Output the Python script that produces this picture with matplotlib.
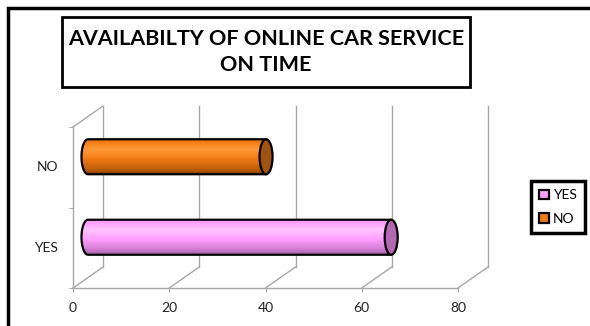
import numpy as np
import matplotlib
matplotlib.use("Agg")
import matplotlib.pyplot as plt
from matplotlib.patches import Rectangle, Ellipse, PathPatch, Patch
from matplotlib.path import Path
from matplotlib.colors import to_rgb

# ---- data ----
categories = ["YES", "NO"]
values = [63, 37]
x_ticks = [0, 20, 40, 60, 80]
title_text = "AVAILABILTY OF ONLINE CAR SERVICE\nON TIME"

# ---- style ----
W, H, DPI = 590, 326, 100
FONT = "Lato"
body_light = {"YES": "#FFC4FF", "NO": "#FF9A3A"}
body_base = {"YES": "#FF9EFF", "NO": "#F27A12"}
body_dark = {"YES": "#A45CA4", "NO": "#8E4200"}
cap_color = {"YES": "#B468B4", "NO": "#A0520E"}
grid_color = "#A8A8A8"

fig = plt.figure(figsize=(W / DPI, H / DPI), dpi=DPI)

def px_box(x0, y0, x1, y1):
    """figure-fraction rectangle from pixel coords measured from top-left"""
    return [x0 / W, 1 - y1 / H, (x1 - x0) / W, (y1 - y0) / H]

# plot area (front plane)
ax = fig.add_axes(px_box(73, 127, 458, 288))
ax.set_xlim(0, 80)
ax.set_ylim(-0.5, 1.5)
ax.set_facecolor("none")

# depth of the 3-D box, in data units
ax_w_px, ax_h_px = 385, 161
dx = 30 * 80 / ax_w_px
dy = 21 * 2.0 / ax_h_px

# walls / floor
for v in x_ticks:
    ax.plot([v + dx, v + dx], [-0.5 + dy, 1.5 + dy], color=grid_color, lw=1, clip_on=False, zorder=1)
    ax.plot([v, v + dx], [-0.5, -0.5 + dy], color=grid_color, lw=1, clip_on=False, zorder=1)
ax.plot([0, dx], [1.5, 1.5 + dy], color=grid_color, lw=1, clip_on=False, zorder=1)

for s in ["top", "right"]:
    ax.spines[s].set_visible(False)
for s in ["bottom", "left"]:
    ax.spines[s].set_color(grid_color)
    ax.spines[s].set_linewidth(1)

ax.set_xticks(x_ticks)
ax.set_xticklabels([str(t) for t in x_ticks], fontsize=10, family=FONT, color="#222222")
ax.tick_params(axis="x", length=3, color=grid_color, pad=7)
ax.set_yticks([-0.5, 0.5, 1.5])
ax.set_yticklabels([])
ax.tick_params(axis="y", length=3, color=grid_color)
ypos = np.arange(len(categories))
for y, c in zip(ypos, categories):
    ax.text(-3.1, y, c, ha="right", va="center", fontsize=10, family=FONT, color="#222222")

# cylinders
bar_h = 35 / ax_h_px * 2.0
cap_w = 13 * 80 / ax_w_px
n_strips = 40

def shade(cat, t):
    light = np.array(to_rgb(body_light[cat]))
    base = np.array(to_rgb(body_base[cat]))
    dark = np.array(to_rgb(body_dark[cat]))
    pts = [0.0, 0.08, 0.3, 0.55, 0.85, 1.0]
    cols = [base * 0.92, base, light, base, (base + dark) / 2, dark]
    out = np.zeros(3)
    for k in range(3):
        out[k] = np.interp(t, pts, [c[k] for c in cols])
    return np.clip(out, 0, 1)

for y, v, cat in zip(ypos, values, categories):
    yc = y + dy / 2
    x0 = dx / 2
    x1 = v + dx / 2
    a = cap_w / 2
    b = bar_h / 2
    th = np.linspace(np.pi / 2, 3 * np.pi / 2, 40)
    left_arc = np.column_stack([x0 + a * np.cos(th), yc + b * np.sin(th)])
    outline = np.vstack([[x1, yc + b], left_arc, [x1, yc - b]])
    clip_verts = np.vstack([outline, [x1, yc + b]])
    clip = PathPatch(Path(clip_verts, closed=True), transform=ax.transData, facecolor="none", edgecolor="none")
    ax.add_patch(clip)
    edges = np.linspace(yc + b, yc - b, n_strips + 1)
    for i in range(n_strips):
        t = (i + 0.5) / n_strips
        bars = ax.barh(edges[i + 1], v + a, left=x0 - a, height=edges[i] - edges[i + 1] + 0.002,
                       align="edge", color=shade(cat, t), edgecolor="none", zorder=3)
        for p in bars:
            p.set_clip_path(clip)
    ax.plot(outline[:, 0], outline[:, 1], color="black", lw=1.6, zorder=4, solid_capstyle="round")
    ax.add_patch(Ellipse((x1, yc), cap_w, bar_h, facecolor=cap_color[cat], edgecolor="black", lw=1.6, zorder=5))

# outer chart border
fig.add_artist(Rectangle((8 / W, -0.1), 1.1, 1 - 8 / H + 0.1, transform=fig.transFigure,
                         facecolor="none", edgecolor="black", lw=2.5))

# title box
fig.add_artist(Rectangle((62 / W, 1 - 87 / H), (470 - 62) / W, 70 / H, transform=fig.transFigure,
                         facecolor="white", edgecolor="black", lw=2, zorder=5))
ttl = fig.text(266 / W, 1 - 52 / H, title_text, ha="center", va="center", fontsize=17,
               fontweight="bold", family=FONT, linespacing=1.4, zorder=6)
fig.canvas.draw()
wpx = ttl.get_window_extent().width
ttl.set_fontsize(17 * 394 / wpx)

# legend
handles = [Patch(facecolor=body_base[c], edgecolor="black", lw=1.6, label=c) for c in categories]
leg = fig.legend(handles=handles, loc="center", bbox_to_anchor=(558 / W, 1 - 207 / H),
                 frameon=True, fancybox=False, edgecolor="black", framealpha=1,
                 handlelength=0.7, handleheight=0.7,
                 handletextpad=0.3, labelspacing=0.8, borderpad=0.6, prop={"family": FONT, "size": 10})
leg.get_frame().set_linewidth(2.5)

fig.savefig("out.png", dpi=DPI)
